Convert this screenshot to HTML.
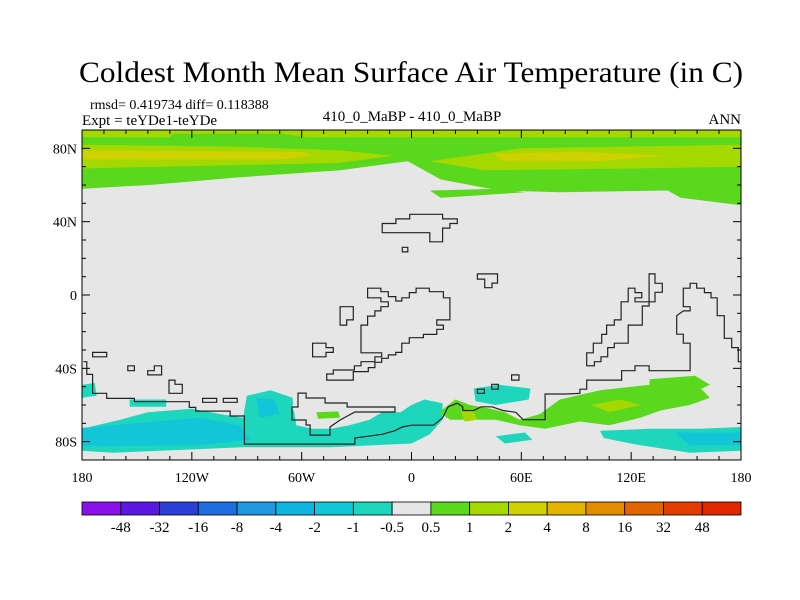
<!DOCTYPE html>
<html><head><meta charset="utf-8"><style>
body{margin:0;background:#fff;width:800px;height:600px;overflow:hidden}
svg{display:block;font-family:"Liberation Serif",serif}
</style></head><body>
<svg id="chart" width="800" height="600">
<text x="411" y="82" text-anchor="middle" font-size="30" textLength="664" lengthAdjust="spacingAndGlyphs">Coldest Month Mean Surface Air Temperature (in C)</text>
<text x="90" y="109" font-size="14">rmsd= 0.419734 diff= 0.118388</text>
<text x="82" y="125" font-size="15">Expt = teYDe1-teYDe</text>
<text x="412" y="121" text-anchor="middle" font-size="15">410_0_MaBP - 410_0_MaBP</text>
<text x="741" y="124" text-anchor="end" font-size="15">ANN</text>
<g id="map"></g>
<g id="axes"></g>
<g id="cbar"></g>
</svg>
<script>
const levelLabels=["-48","-32","-16","-8","-4","-2","-1","-0.5","0.5","1","2","4","8","16","32","48"];
const levelColors=["#8a10e8","#5a18e0","#2c40d8","#1e6ee0","#1e98e0","#10b4e0","#12c6d8","#1ed6bc","#e6e6e6","#5ad81e","#a4d800","#d0d200","#e2b400","#e28c00","#e26400","#e23c00","#e02800"];
const lonTicks=[-180,-120,-60,0,60,120,180];
const lonTickLabels=["180","120W","60W","0","60E","120E","180"];
const latTicks=[80,40,0,-40,-80];
const latTickLabels=["80N","40N","0","40S","80S"];
// filled regions: [colorIndex, polygon lon/lat]
const fillRegions=[
[9,[[-180,90],[180,90],[180,49],[147,53],[140,57],[81,56],[48,57],[16,63],[-2,73],[-39,68],[-97,64],[-143,60],[-180,58]]],
[9,[[10,57],[48,58],[62,56],[16,53]]],
[10,[[-180,90],[180,90],[180,86],[-58,86],[-70,88],[-130,88],[-132,86],[-180,86]]],
[10,[[-180,82],[-100,81],[-40,79],[-10,76],[-40,72],[-180,69]]],
[10,[[10,73],[60,80],[180,82],[180,70],[120,69],[40,68]]],
[11,[[-180,79],[-60,78],[-54,76],[-70,74],[-180,74]]],
[11,[[45,77],[90,78],[140,76],[100,73],[50,73]]],
[7,[[-180,-73],[-159,-68],[-144,-64],[-120,-62],[-104,-65],[-92,-67],[-90,-55],[-77,-52],[-65,-56],[-63,-71],[-54,-73],[-44,-73],[-34,-71],[-23,-68],[-16,-64],[-6,-64],[0,-60],[7,-57],[17,-59],[17,-68],[10,-76],[0,-81],[-21,-82],[-44,-83],[-92,-83],[-163,-86],[-180,-85]]],
[7,[[-180,-49],[-173,-48],[-172,-55],[-180,-56]]],
[7,[[-154,-57],[-134,-57],[-134,-61],[-154,-61]]],
[6,[[-180,-72.5],[-143,-69.3],[-115.5,-67],[-93.7,-71],[-88.2,-79],[-115.5,-82],[-180,-82.6]]],
[6,[[-85,-56],[-75,-57],[-72,-65],[-83,-67]]],
[8,[[-65.3,-61.1],[-62,-53.5],[-47.2,-56.2],[-35.2,-58.9],[-9,-61.1],[-9,-63.8],[-30.9,-63.8],[-39,-68.2],[-44.5,-72],[-55.4,-72],[-60.9,-70.9]]],
[9,[[-52,-64],[-40,-63.5],[-39,-67],[-51,-67.5]]],
[7,[[34,-51],[48,-49],[65,-51],[64,-57],[46,-60],[35,-58]]],
[7,[[46,-77],[62,-75],[66,-79],[51,-81]]],
[9,[[15,-64],[24,-57],[32,-60],[43,-62],[51,-64],[59,-68],[70,-65],[81,-57],[103,-52],[130,-49],[158,-51],[163,-56],[152,-60],[136,-63],[125,-67],[108,-71],[92,-69],[73,-73],[59,-71],[46,-68],[21,-68]]],
[9,[[130,-46],[155,-44],[163,-49],[150,-55],[130,-52]]],
[10,[[98,-60],[114,-57],[125,-60],[108,-64]]],
[10,[[27,-63],[33,-62],[36,-68],[29,-69]]],
[7,[[103,-74],[130,-73],[158,-73],[180,-72],[180,-85],[152,-86],[125,-82],[105,-78]]],
[6,[[144,-75],[180,-75],[180,-82],[152,-82]]]
];
// coastline polylines (open) and closed outlines, lon/lat
const coastLines=[
[[-179.3,-36.4],[-177.4,-36.4],[-177.4,-43.3],[-174.2,-43.3],[-174.2,-53.6],[-166.5,-53.6],[-166.5,-56.4],[-151.4,-56.4],[-151.4,-58.2],[-121.4,-58.2],[-121.4,-61.3],[-117.9,-61.3],[-117.9,-63.3],[-99.1,-63.3],[-99.1,-66],[-91.3,-66],[-91.3,-81.3],[-31,-81.3],[-31,-78],[-16,-76],[-9,-74],[-5,-72],[0,-71],[12,-71],[17,-67],[20,-61],[25,-59],[28,-61],[28,-63],[34,-63],[38,-61],[44,-61],[50,-63],[57,-64],[61,-68],[73,-68],[73,-57],[73,-54],[84.8,-54],[92,-53.6],[92,-51.4],[95.7,-51.4],[95.7,-46.4],[114.8,-46.4],[114.8,-41.3],[122.1,-41.3],[122.1,-38.6],[129.8,-38.6],[129.8,-41.3],[152.2,-41.3],[152.2,-26.3],[148.5,-26.3],[148.5,-21.4],[144.9,-21.4],[144.9,-11.3],[148.5,-8.7],[152.2,-8.7],[152.2,-6.4],[148.5,-6.4],[148.5,3.7],[152.2,3.7],[152.2,6.4],[155.8,6.4],[155.8,3.7],[160,3.7],[160,1.3],[163.6,1.3],[163.6,-1.5],[167,-1.5],[167,-11.3],[170.9,-11.3],[170.9,-23.6],[174.9,-23.6],[174.9,-28.7],[178.5,-28.7],[178.5,-36.4],[180,-36.4]]
];
const closedOutlines=[
[[-16,39],[-8.5,39],[-8.5,41.5],[-1,41.5],[-1,44],[17,44],[17,41.5],[25,41.5],[25,39],[21,39],[21,36.5],[17,36.5],[17,29],[10,29],[10,34],[-16,34]],
[[-5,26],[-2,26],[-2,23.5],[-5,23.5]],
[[36,11.5],[47,11.5],[47,6.5],[44,6.5],[44,4],[40,4],[40,8.7],[36,8.7]],
[[-24,3.7],[-16.7,3.7],[-16.7,1.8],[-12.7,1.8],[-12.7,-0.9],[-8.6,-0.9],[-8.6,-3.3],[-5.3,-3.3],[-5.3,-1.5],[-1.2,-1.5],[-1.2,1.3],[2.5,1.3],[2.5,3.7],[9.7,3.7],[9.7,1.8],[17.4,1.8],[17.4,-1.5],[21,-1.5],[21,-13.6],[13.8,-13.6],[13.8,-16.4],[17.4,-16.4],[17.4,-18.7],[13.8,-18.7],[13.8,-21.5],[6.5,-21.5],[6.5,-23.3],[-1.2,-23.3],[-1.2,-26.3],[-5.3,-26.3],[-5.3,-31.3],[-8.6,-31.3],[-8.6,-32.7],[-12.7,-32.7],[-12.7,-34.5],[-16.3,-34.5],[-16.3,-36.7],[-20,-36.7],[-20,-39.6],[-23.6,-39.6],[-23.6,-41.8],[-31.8,-41.8],[-31.8,-46.4],[-46.3,-46.4],[-46.3,-43.1],[-42.7,-43.1],[-42.7,-40.9],[-31.2,-40.9],[-31.2,-38.6],[-27.6,-38.6],[-27.6,-36.4],[-20,-36.4],[-20,-33.7],[-16.3,-33.7],[-16.3,-31.5],[-27.6,-31.5],[-27.6,-16.4],[-24,-16.4],[-24,-11.5],[-20,-11.5],[-20,-8.7],[-16.7,-8.7],[-16.7,-6.4],[-12.7,-6.4],[-12.7,-3.7],[-16.7,-3.7],[-16.7,-1.5],[-24,-1.5]],
[[-39,-6.4],[-31.8,-6.4],[-31.8,-13.6],[-35.4,-13.6],[-35.4,-16.4],[-39,-16.4]],
[[-54,-26.3],[-46.7,-26.3],[-46.7,-28.7],[-42.7,-28.7],[-42.7,-31.3],[-46.7,-31.3],[-46.7,-33.7],[-54,-33.7]],
[[54.7,-43.6],[58.7,-43.6],[58.7,-46.4],[54.7,-46.4]],
[[43.8,-48.7],[47.4,-48.7],[47.4,-51.4],[43.8,-51.4]],
[[36,-51.4],[39.8,-51.4],[39.8,-53.6],[36,-53.6]],
[[95.7,-31.5],[99.3,-31.5],[99.3,-26.3],[103.9,-26.3],[103.9,-21.5],[106.6,-21.5],[106.6,-16.4],[110.8,-16.4],[110.8,-13.6],[114.5,-13.6],[114.5,-3.7],[118.4,-3.7],[118.4,3.7],[122.1,3.7],[122.1,1.3],[125.8,1.3],[125.8,-1.5],[122.1,-1.5],[122.1,-3.7],[129.8,-3.7],[129.8,11.5],[133,11.5],[133,6.4],[137,6.4],[137,1.5],[133,1.5],[133,-3.7],[129.8,-3.7],[129.8,-6],[126.1,-6],[126.1,-16.4],[118.4,-16.4],[118.4,-26.3],[110.8,-26.3],[110.8,-28.7],[107.2,-28.7],[107.2,-33.7],[103.5,-33.7],[103.5,-36.4],[99.9,-36.4],[99.9,-38.6],[95.7,-38.6]],
[[-65.3,-61.1],[-62,-61.1],[-62,-53.5],[-57.6,-53.5],[-57.6,-56.2],[-47.2,-56.2],[-47.2,-58.9],[-35.2,-58.9],[-35.2,-61.1],[-9,-61.1],[-9,-63.8],[-30.9,-63.8],[-39,-68.2],[-44.5,-72],[-44.5,-76.4],[-55.4,-76.4],[-55.4,-70.9],[-57.6,-70.9],[-57.6,-68.2],[-65.3,-68.2]],
[[-174.2,-31.3],[-166.5,-31.3],[-166.5,-33.7],[-174.2,-33.7]],
[[-155,-38.6],[-151.4,-38.6],[-151.4,-41.3],[-155,-41.3]],
[[-140.5,-38.6],[-136.5,-38.6],[-136.5,-43.6],[-144.1,-43.6],[-144.1,-41.3],[-140.5,-41.3]],
[[-132.5,-46.4],[-129.2,-46.4],[-129.2,-48.7],[-125.2,-48.7],[-125.2,-53.6],[-132.5,-53.6]],
[[-114.1,-56.4],[-106.4,-56.4],[-106.4,-58.5],[-114.1,-58.5]],
[[-102.8,-56.4],[-95.2,-56.4],[-95.2,-58.5],[-102.8,-58.5]]
];
const L=82,R=741,T=130,B=460;
const NS="http://www.w3.org/2000/svg";
function xs(lon){return L+(lon+180)/360*(R-L);}
function ys(lat){return T+(90-lat)/180*(B-T);}
function mk(tag,attrs,parent){const e=document.createElementNS(NS,tag);for(const k in attrs)e.setAttribute(k,attrs[k]);parent.appendChild(e);return e;}
const map=document.getElementById('map'),axes=document.getElementById('axes'),cbar=document.getElementById('cbar');
const bg=mk('rect',{x:L,y:T,width:R-L,height:B-T,fill:levelColors[8]},map);


fillRegions.forEach(function(r){
  const p=mk('polygon',{points:r[1].map(q=>xs(q[0]).toFixed(1)+','+ys(q[1]).toFixed(1)).join(' '),fill:levelColors[r[0]]},map);
  
  
});
coastLines.forEach(function(c){
  const p=mk('polyline',{points:c.map(q=>xs(q[0]).toFixed(1)+','+ys(q[1]).toFixed(1)).join(' '),fill:'none',stroke:'#222','stroke-width':1.2},map);
  
  
});
closedOutlines.forEach(function(c){
  const p=mk('polygon',{points:c.map(q=>xs(q[0]).toFixed(1)+','+ys(q[1]).toFixed(1)).join(' '),fill:'none',stroke:'#222','stroke-width':1.2},map);
  
  
});
const frame=mk('rect',{x:L,y:T,width:R-L,height:B-T,fill:'none',stroke:'#000','stroke-width':1},axes);


for(let lon=-180;lon<=180;lon+=12){
  const maj=lon%60===0, len=maj?8:4, x=xs(lon);
  mk('line',{x1:x,y1:B,x2:x,y2:B-len,stroke:'#000'},axes);
  mk('line',{x1:x,y1:T,x2:x,y2:T+len,stroke:'#000'},axes);
}
for(let lat=-90;lat<=90;lat+=10){
  const maj=lat%40===0, len=maj?8:4, y=ys(lat);
  mk('line',{x1:L,y1:y,x2:L+len,y2:y,stroke:'#000'},axes);
  mk('line',{x1:R,y1:y,x2:R-len,y2:y,stroke:'#000'},axes);
}
lonTicks.forEach(function(v,i){
  const t=mk('text',{x:xs(v),y:B+22,'text-anchor':'middle','font-size':14},axes);
  t.textContent=lonTickLabels[i];
  
  
});
latTicks.forEach(function(v,i){
  const t=mk('text',{x:L-5,y:ys(v)+5,'text-anchor':'end','font-size':14},axes);
  t.textContent=latTickLabels[i];
  
  
});
const bw=(R-L)/levelColors.length;
levelColors.forEach(function(c,i){
  const r=mk('rect',{x:L+i*bw,y:502,width:bw,height:13,fill:c,stroke:'#000','stroke-width':0.8},cbar);
  
  
});
levelLabels.forEach(function(s,i){
  const t=mk('text',{x:L+(i+1)*bw,y:532,'text-anchor':'middle','font-size':15},cbar);
  t.textContent=s;
  
  
});
</script>
</body></html>
